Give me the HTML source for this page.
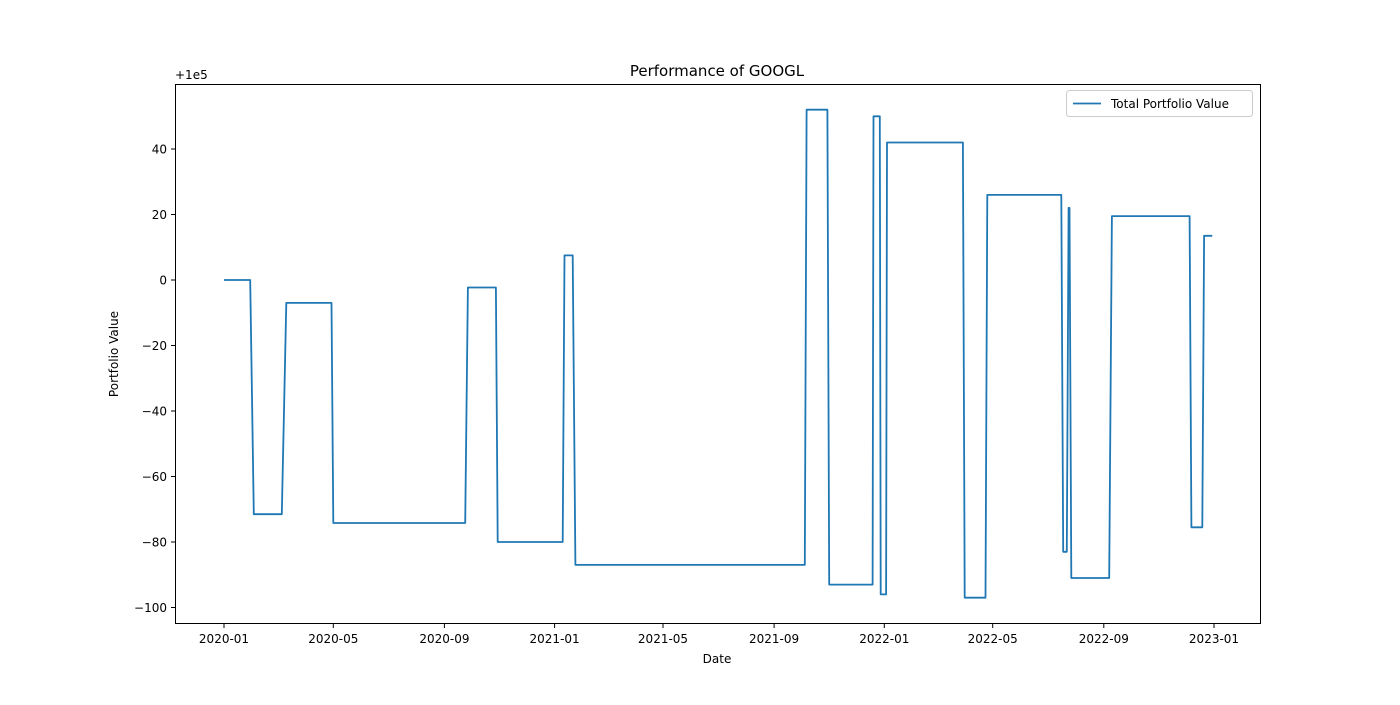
<!DOCTYPE html>
<html><head><meta charset="utf-8"><style>
body{margin:0;background:#fff;}
svg text{font-family:"DejaVu Sans","Liberation Sans",sans-serif;fill:#000;}
</style></head><body>
<svg id="chart" width="1400" height="700" xmlns="http://www.w3.org/2000/svg">
<rect width="1400" height="700" fill="#fff"/>
<text x="717" y="76" font-size="15" text-anchor="middle">Performance of GOOGL</text>
<text x="175" y="79" font-size="12">+1e5</text>
<g id="axes"></g>
<rect x="175.5" y="84.5" width="1085" height="539" fill="none" stroke="#000" stroke-width="1"/>
<text x="717" y="663" font-size="12" text-anchor="middle">Date</text>
<text transform="translate(118,354) rotate(-90)" font-size="12" text-anchor="middle">Portfolio Value</text>
<g>
<rect x="1066.5" y="90.5" width="186" height="26" rx="3" fill="#fff" stroke="#ccc"/>
<line x1="1073" y1="103.5" x2="1101" y2="103.5" stroke="#1f77b4" stroke-width="1.8"/>
<text x="1111" y="108" font-size="12">Total Portfolio Value</text>
</g>
</svg>
<script>
// days since 2020-01-01 and portfolio offset values (+1e5)
const days = [0,29,33,64,69,119,121,267,270,301,303,375,377,386,389,643,645,668,670,718,719,726,727,733,734,818,820,843,845,927,929,933,935,936,938,980,983,1069,1071,1083,1085,1094];
const values = [0,0,-71.5,-71.5,-7,-7,-74.2,-74.2,-2.3,-2.3,-80,-80,7.5,7.5,-87,-87,52,52,-93,-93,50,50,-96,-96,42,42,-97,-97,26,26,-83,-83,22,22,-91,-91,19.5,19.5,-75.5,-75.5,13.5,13.5];
const yTicks = [40,20,0,-20,-40,-60,-80,-100];
const xTickLabels = ["2020-01","2020-05","2020-09","2021-01","2021-05","2021-09","2022-01","2022-05","2022-09","2023-01"];
const xTickDays = [0,121,244,366,486,609,731,851,974,1096];

const ns="http://www.w3.org/2000/svg";
const X=d=>224+d*(990/1096);
const Y=v=>280-v*(131/40);
const g=document.getElementById('axes');
function mk(tag,attrs){const e=document.createElementNS(ns,tag);for(const k in attrs)e.setAttribute(k,attrs[k]);return e;}
yTicks.forEach(t=>{
  const y=Y(t);
  const l=mk('line',{x1:171,x2:175.5,y1:y,y2:y,stroke:'#000'});
  
  
  g.appendChild(l);
  const tx=mk('text',{x:167,y:y+4.5,'font-size':12,'text-anchor':'end'});
  
  
  tx.textContent=(t<0?'\u2212'+(-t):t);
  g.appendChild(tx);
});
xTickLabels.forEach((lab,i)=>{
  const x=X(xTickDays[i]);
  const l=mk('line',{x1:x,x2:x,y1:623.5,y2:628,stroke:'#000'});
  
  
  g.appendChild(l);
  const tx=mk('text',{x:x,y:643,'font-size':12,'text-anchor':'middle'});
  
  
  tx.textContent=lab;
  g.appendChild(tx);
});
const pts=days.map((d,i)=>X(d).toFixed(1)+','+Y(values[i]).toFixed(1)).join(' ');
const pl=mk('polyline',{points:pts,fill:'none',stroke:'#1f77b4','stroke-width':1.8,'stroke-linejoin':'round'});


g.appendChild(pl);
</script>
</body></html>
